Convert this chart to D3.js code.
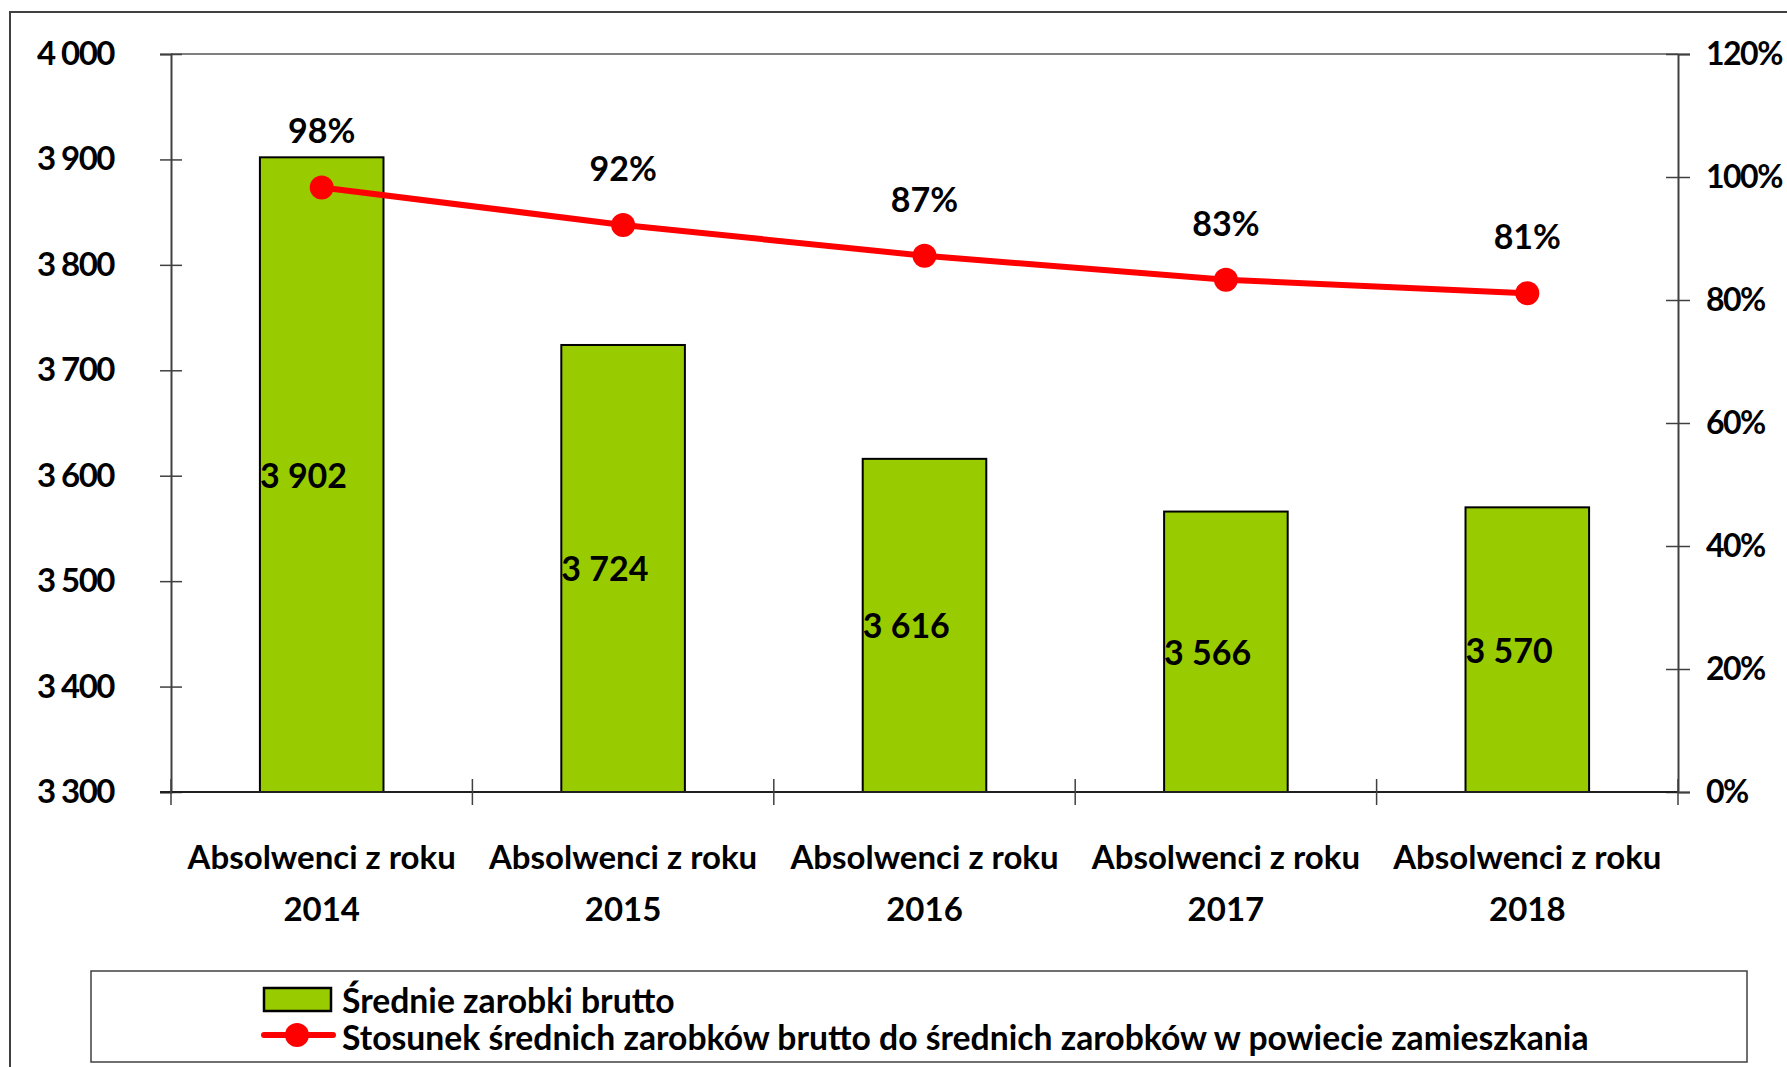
<!DOCTYPE html>
<html>
<head>
<meta charset="utf-8">
<script src="https://cdn.jsdelivr.net/npm/d3@7"></script>
<style>
  body { margin: 0; background: #fff; }
  text { font-family: Lato, "Liberation Sans", sans-serif; font-weight: bold; fill: #000; }
</style>
</head>
<body>
<div class="chart"></div>
<script>
var categories = ["2014", "2015", "2016", "2017", "2018"];
var categoryPrefix = "Absolwenci z roku";
var earnings = [3902, 3724, 3616, 3566, 3570];
var ratio = [0.983, 0.922, 0.872, 0.833, 0.811];
var ratioLabels = ["98%", "92%", "87%", "83%", "81%"];
var leftTicks = [3300, 3400, 3500, 3600, 3700, 3800, 3900, 4000];
var rightTicks = [0, 0.2, 0.4, 0.6, 0.8, 1.0, 1.2];
var legendLabels = ["Średnie zarobki brutto",
  "Stosunek średnich zarobków brutto do średnich zarobków w powiecie zamieszkania"];

var width = 1787, height = 1067;
var plot = {left: 171, right: 1678, top: 54, bottom: 792};
var green = "#99cc00", red = "#ff0000";
var fs = 33;

var svg = d3.select(".chart")
  .append("svg")
    .attr("width", width)
    .attr("height", height);

// outer frame of the chart
svg.append("rect")
  .attr("x", 10).attr("y", 12)
  .attr("width", 1800).attr("height", 1100)
  .attr("fill", "none")
  .attr("stroke", "#404040")
  .attr("stroke-width", 2);

var x = d3.scaleBand()
  .domain(categories)
  .range([plot.left, plot.right])
  .paddingInner(0.59)
  .paddingOuter(0.295);

var xb = d3.scaleBand().domain(categories).range([plot.left, plot.right]);

var y = d3.scaleLinear().domain([3300, 4000]).range([plot.bottom, plot.top]);
var y2 = d3.scaleLinear().domain([0, 1.2]).range([plot.bottom, plot.top]);

var fmt = function(v) { return d3.format(",")(v).replace(/,/g, " "); };

// top border of plot
svg.append("line")
  .attr("x1", plot.left).attr("x2", plot.right)
  .attr("y1", plot.top).attr("y2", plot.top)
  .attr("stroke", "#808080").attr("stroke-width", 2);

// left axis
var leftAxis = svg.append("g")
  .attr("transform", "translate(" + plot.left + ",0)")
  .call(d3.axisLeft(y).tickValues(leftTicks).tickSize(11).tickPadding(0).tickFormat(fmt));
leftAxis.select(".domain").attr("stroke", "#404040").attr("stroke-width", 2);
leftAxis.selectAll(".tick line").attr("x2", 11).attr("x1", -11).attr("stroke", "#404040").attr("stroke-width", 1.5);
leftAxis.selectAll(".tick text")
  .attr("x", -57)
  .attr("font-size", fs)
  .attr("letter-spacing", -1.5)
  .attr("font-family", null)
  .attr("fill", "#000");

// right axis
var rightAxis = svg.append("g")
  .attr("transform", "translate(" + plot.right + ",0)")
  .call(d3.axisRight(y2).tickValues(rightTicks).tickSize(12).tickFormat(d3.format(".0%")));
rightAxis.select(".domain").attr("stroke", "#404040").attr("stroke-width", 2);
rightAxis.selectAll(".tick line").attr("x1", -12).attr("x2", 12).attr("stroke", "#404040").attr("stroke-width", 1.5);
rightAxis.selectAll(".tick text")
  .attr("x", 28)
  .attr("font-size", 32)
  .attr("letter-spacing", -1.5)
  .attr("font-family", null)
  .attr("fill", "#000");

// bars
svg.selectAll("rect.bar")
  .data(earnings)
  .enter()
    .append("rect")
      .attr("class", "bar")
      .attr("x", function(d, i) { return x(categories[i]); })
      .attr("y", function(d) { return y(d); })
      .attr("width", x.bandwidth())
      .attr("height", function(d) { return plot.bottom - y(d); })
      .attr("fill", green)
      .attr("stroke", "#000")
      .attr("stroke-width", 2);

// bottom axis
var bottomAxis = svg.append("g")
  .attr("transform", "translate(0," + plot.bottom + ")");
bottomAxis.append("line")
  .attr("x1", plot.left - 11).attr("x2", plot.right)
  .attr("stroke", "#202020").attr("stroke-width", 2);
var bounds = categories.map(function(c) { return xb(c); }).concat([plot.right]);
bottomAxis.selectAll("line.tick")
  .data(bounds)
  .enter()
    .append("line")
      .attr("class", "tick")
      .attr("x1", function(d) { return d; })
      .attr("x2", function(d) { return d; })
      .attr("y1", -13).attr("y2", 13)
      .attr("stroke", "#404040").attr("stroke-width", 1.5);

// category labels
var catLabels = svg.selectAll("text.cat")
  .data(categories)
  .enter()
    .append("text")
      .attr("class", "cat")
      .attr("text-anchor", "middle")
      .attr("font-size", fs);
catLabels.append("tspan")
  .attr("x", function(d) { return xb(d) + xb.bandwidth() / 2; })
  .attr("y", 869)
  .text(categoryPrefix);
catLabels.append("tspan")
  .attr("x", function(d) { return xb(d) + xb.bandwidth() / 2; })
  .attr("y", 921)
  .text(function(d) { return d; });

// bar value labels
svg.selectAll("text.val")
  .data(earnings)
  .enter()
    .append("text")
      .attr("class", "val")
      .attr("x", function(d, i) { return x(categories[i]); })
      .attr("y", function(d) { return (y(d) + plot.bottom) / 2 + 13; })
      .attr("font-size", fs + 1)
      .text(function(d) { return fmt(d); });

// ratio line
var cx = function(i) { return xb(categories[i]) + xb.bandwidth() / 2; };
var line = d3.line()
  .x(function(d, i) { return cx(i); })
  .y(function(d) { return y2(d); });
svg.append("path")
  .datum(ratio)
  .attr("d", line)
  .attr("fill", "none")
  .attr("stroke", red)
  .attr("stroke-width", 6);
svg.selectAll("circle.pt")
  .data(ratio)
  .enter()
    .append("circle")
      .attr("class", "pt")
      .attr("cx", function(d, i) { return cx(i); })
      .attr("cy", function(d) { return y2(d); })
      .attr("r", 12)
      .attr("fill", red);
svg.selectAll("text.pct")
  .data(ratio)
  .enter()
    .append("text")
      .attr("class", "pct")
      .attr("x", function(d, i) { return cx(i); })
      .attr("y", function(d) { return y2(d) - 44; })
      .attr("text-anchor", "middle")
      .attr("font-size", fs + 1)
      .text(function(d, i) { return ratioLabels[i]; });

// legend
var legend = svg.append("g");
legend.append("rect")
  .attr("x", 91).attr("y", 971)
  .attr("width", 1656).attr("height", 91)
  .attr("fill", "#fff")
  .attr("stroke", "#404040")
  .attr("stroke-width", 1.5);
legend.append("rect")
  .attr("x", 264).attr("y", 988)
  .attr("width", 67).attr("height", 23)
  .attr("fill", green)
  .attr("stroke", "#000")
  .attr("stroke-width", 2.5);
legend.append("line")
  .attr("x1", 264).attr("x2", 333)
  .attr("y1", 1035).attr("y2", 1035)
  .attr("stroke", red).attr("stroke-width", 6)
  .attr("stroke-linecap", "round");
legend.append("circle")
  .attr("cx", 297).attr("cy", 1035).attr("r", 12)
  .attr("fill", red);
legend.selectAll("text")
  .data(legendLabels)
  .enter()
    .append("text")
      .attr("x", 342)
      .attr("y", function(d, i) { return 1013 + i * 37; })
      .attr("font-size", 33.7)
      .text(function(d) { return d; });
</script>
</body>
</html>
